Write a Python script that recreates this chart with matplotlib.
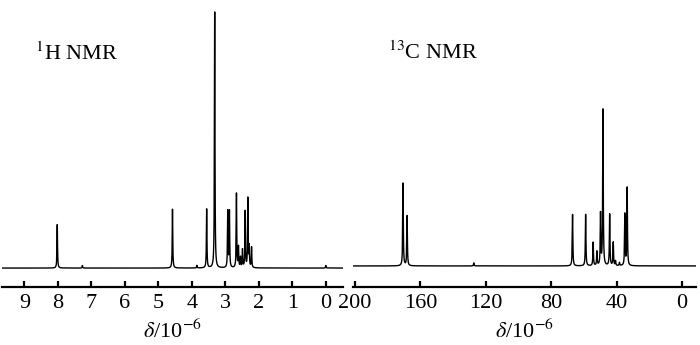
import numpy as np
import matplotlib
matplotlib.use("Agg")
import matplotlib.pyplot as plt

plt.rcParams['font.family'] = ['Liberation Serif', 'DejaVu Serif']
plt.rcParams['mathtext.fontset'] = 'stix'

# 1H NMR peaks (ppm, relative height)
h_ppm = [8.02, 7.27, 4.58, 3.85, 3.56, 3.32, 2.93, 2.88, 2.67, 2.61, 2.55,
         2.49, 2.41, 2.33, 2.29, 2.22, 0.0]
h_int = [0.17, 0.01, 0.23, 0.01, 0.23, 1.00, 0.22, 0.22, 0.29, 0.08, 0.04,
         0.07, 0.22, 0.27, 0.08, 0.08, 0.01]
h_ticks = [9, 8, 7, 6, 5, 4, 3, 2, 1, 0]

# 13C NMR peaks (ppm, relative height)
c_ppm = [170.6, 168.1, 127.3, 66.9, 58.9, 54.3, 52.0, 49.8, 48.3, 44.2,
         42.0, 40.6, 38.2, 34.9, 33.5]
c_int = [0.53, 0.32, 0.02, 0.33, 0.33, 0.15, 0.09, 0.33, 1.00, 0.33,
         0.15, 0.03, 0.02, 0.33, 0.50]
c_ticks = [200, 160, 120, 80, 40, 0]


def spectrum(x, ppm, inten, w):
    y = np.zeros_like(x)
    for p, a in zip(ppm, inten):
        y += a * w**2 / ((x - p)**2 + w**2)
    return y


fig = plt.figure(figsize=(7, 3.45), dpi=100)

ax1 = fig.add_axes([2/700, 58/345, 341/700, 279/345])
ax2 = fig.add_axes([353/700, 58/345, 343/700, 279/345])

xh = np.linspace(-0.6, 9.8, 20000)
ax1.plot(xh, spectrum(xh, h_ppm, h_int, 0.009), color='black', lw=1.0)
ax1.set_xlim(9.67, -0.51)
ax1.set_ylim(-0.074, 1.016)
ax1.set_xticks(h_ticks)

xc = np.linspace(-10, 202, 20000)
ax2.plot(xc, spectrum(xc, c_ppm, c_int, 0.2), color='black', lw=1.0)
ax2.set_xlim(201.2, -8.6)
ax2.set_ylim(-0.135, 1.654)
ax2.set_xticks(c_ticks)

for ax in (ax1, ax2):
    for s in ('top', 'left', 'right'):
        ax.spines[s].set_visible(False)
    ax.spines['bottom'].set_linewidth(1.6)
    ax.set_yticks([])
    ax.tick_params(axis='x', direction='in', length=4, width=1.6,
                   labelsize=16, pad=5)
    ax.set_xlabel(r'$\delta$/10$^{-6}$', fontsize=16, labelpad=5)
    ax.patch.set_alpha(0)

fig.text(35/700, 1 - 60/345, r'$^{1}$H NMR', fontsize=16, ha='left', va='baseline')
fig.text(388/700, 1 - 59/345, r'$^{13}$C NMR', fontsize=16, ha='left', va='baseline')

fig.savefig('out.png', dpi=100)
